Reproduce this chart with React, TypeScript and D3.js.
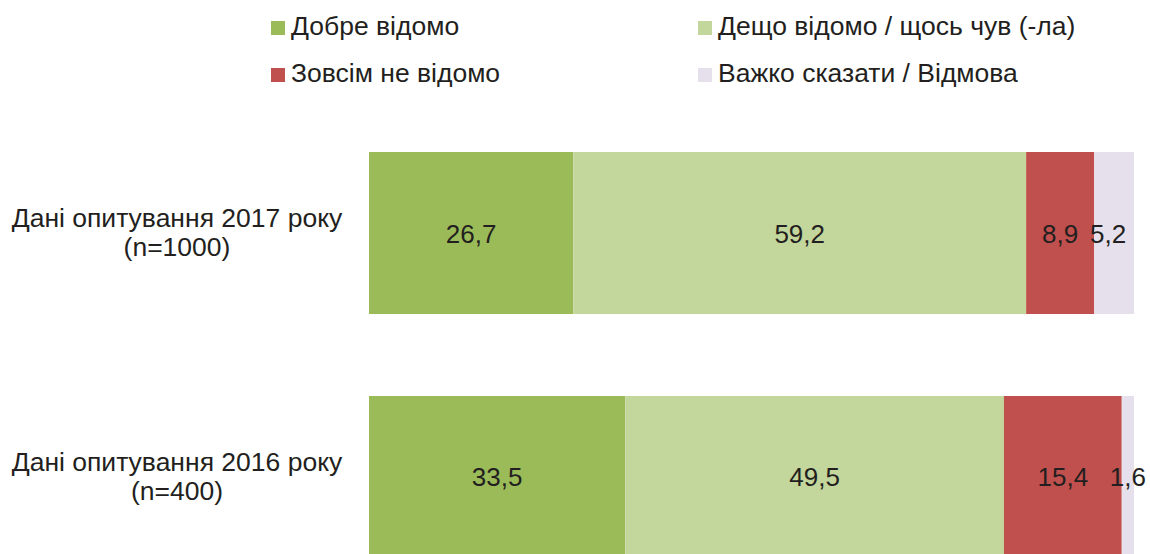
import React from "react";
import * as d3 from "d3";

const categories = ["Дані опитування 2017 року|(n=1000)", "Дані опитування 2016 року|(n=400)"];
const seriesNames = ["Добре відомо", "Дещо відомо / щось чув (-ла)", "Зовсім не відомо", "Важко сказати / Відмова"];
const seriesColors = ["#9BBB59", "#C3D69B", "#C0504D", "#E6E0EC"];
const wellKnown = [26.7, 33.5];
const somewhatKnown = [59.2, 49.5];
const notKnown = [8.9, 15.4];
const hardToSay = [5.2, 1.6];

const W = 1150;
const H = 554;
const FONT = "'Liberation Sans', Arial, sans-serif";
const TEXT = "#231F20";

export default function App() {
  const values = [wellKnown, somewhatKnown, notKnown, hardToSay];
  const x = d3.scaleLinear().domain([0, 100]).range([369, 1134]);
  const y = d3.scaleBand().domain(categories).range([152, 558]).paddingInner(0.336).paddingOuter(0);
  const rows = categories.map((c, i) => {
    const vals = values.map((s) => s[i]);
    const cum = d3.cumsum(vals);
    return { c, segs: vals.map((v, k) => ({ v, k, x0: cum[k] - v, x1: cum[k] })) };
  });
  const fmt = (v: number) => v.toFixed(1).replace(".", ",");
  const legendPos = [
    { x: 271, y: 35 },
    { x: 698, y: 35 },
    { x: 271, y: 82 },
    { x: 698, y: 82 },
  ];
  return (
    <svg width={W} height={H} style={{ position: "absolute", left: 0, top: 0 }} fontFamily={FONT}>
      <rect width={W} height={H} fill="#fff" />
      {seriesNames.map((n, k) => (
        <g key={n}>
          <rect x={legendPos[k].x} y={legendPos[k].y - 14} width={14} height={14} fill={seriesColors[k]} />
          <text x={legendPos[k].x + 20} y={legendPos[k].y} fontSize={26.5} fill={TEXT}>
            {n}
          </text>
        </g>
      ))}
      {rows.map((r) => {
        const y0 = y(r.c)!;
        const bw = y.bandwidth();
        const cy = y0 + bw / 2;
        const lines = r.c.split("|");
        return (
          <g key={r.c}>
            {r.segs.map((s) => (
              <rect key={s.k} x={x(s.x0)} y={y0} width={x(s.x1) - x(s.x0)} height={bw} fill={seriesColors[s.k]} />
            ))}
            {r.segs.map((s) => (
              <text
                key={"t" + s.k}
                x={(x(s.x0) + x(s.x1)) / 2 - (s.k === 3 && s.v > 3 ? 6 : 0)}
                y={cy + 9.5}
                textAnchor="middle"
                fontSize={26}
                fill={TEXT}
              >
                {fmt(s.v)}
              </text>
            ))}
            {lines.map((l, li) => (
              <text key={l} x={177} y={cy - 6 + li * 29} textAnchor="middle" fontSize={26.5} fill={TEXT}>
                {l}
              </text>
            ))}
          </g>
        );
      })}
    </svg>
  );
}
